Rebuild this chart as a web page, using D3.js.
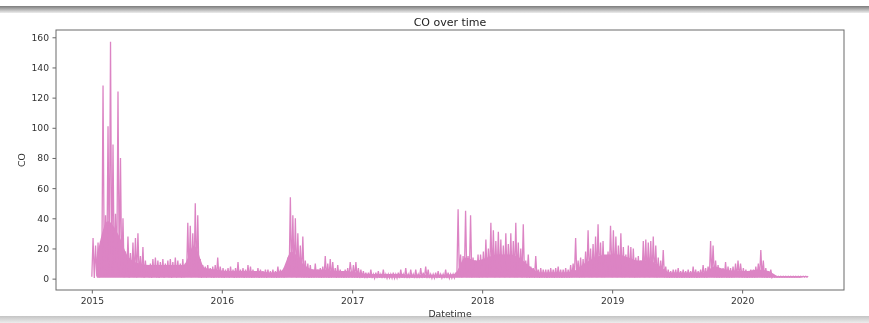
<!DOCTYPE html>
<html>
<head>
<meta charset="utf-8">
<script src="https://cdn.jsdelivr.net/npm/d3@7"></script>
<style>
body { margin: 0; background: #fff; }
svg { display: block; }
</style>
</head>
<body>
<script>
var years = [2015, 2016, 2017, 2018, 2019, 2020];
var yTicks = [0, 20, 40, 60, 80, 100, 120, 140, 160];

// weekly peak CO, week k of a year starts on Jan 1 + 7k days
var high2015 = [27,22,24,25,128,42,101,157,89,43,124,80,40,18,28,17,24,27,30,15,21,12,9,10,13,14,
    12,11,13,10,12,13,11,14,12,10,13,10,37,35,30,50,42,13,9,8,9,7,8,9,14,8];
var high2016 = [7,6,7,8,6,7,11,6,7,6,9,8,6,5,7,6,5,6,6,5,6,5,8,6,5,7,
    14,54,42,40,30,22,28,12,10,9,6,10,6,7,8,15,10,13,11,7,9,6,5,6,7,11];
var high2017 = [9,11,7,6,5,4,4,6,3,4,5,3,6,3,3,3,4,3,4,6,3,7,3,6,3,6,
    3,7,4,8,6,3,3,4,5,3,3,6,4,3,3,4,46,16,15,45,15,42,14,12,16,16];
var high2018 = [18,26,20,37,32,25,31,26,22,30,23,30,25,37,24,20,36,12,16,8,7,15,6,7,6,6,
    6,7,6,7,8,6,6,7,6,9,10,27,12,14,13,18,32,20,23,28,36,24,25,15,18,35];
var high2019 = [32,28,22,30,21,16,22,21,20,14,15,12,25,26,24,25,28,22,14,12,19,8,6,5,6,6,
    7,5,6,5,6,5,8,6,5,6,9,7,8,25,22,12,9,6,7,11,8,7,8,10,12,10];
var high2020 = [7,6,5,6,6,8,10,19,12,7,5,6,2,
    1.6,1.6,1.6,1.6,1.6,1.6,1.6,1.6,1.6,1.6,1.6,1.6,1.6,1.6];

// weekly low CO
var low2015 = [1.2,0.4,1.5,0.8,2.1,1.8,2.5,3.0,2.2,1.6,2.4,1.9,1.1,
    0.9,1.4,0.7,1.2,1.0,0.8,1.3,0.9,0.6,1.1,0.8,0.5,1.0,
    0.7,0.4,0.9,0.6,1.1,0.8,0.5,0.9,0.7,1.0,0.6,0.8,1.2,
    1.5,1.0,1.4,1.1,0.7,0.5,0.8,0.6,0.9,0.7,0.5,0.8,0.6];
var low2016 = [0.7,0.5,0.8,0.6,0.9,0.5,0.7,0.6,0.8,0.5,0.6,0.7,0.5,
    0.6,0.8,0.5,0.7,0.6,0.5,0.8,0.6,0.7,0.5,0.6,0.8,0.7,
    0.9,1.2,1.0,1.1,0.8,0.9,0.7,0.6,0.8,0.5,0.7,0.6,0.8,
    0.7,0.5,0.6,0.7,0.5,0.6,0.8,0.5,0.6,0.7,0.5,0.6,0.7];
var low2017 = [0.6,0.7,0.5,0.4,0.5,0.4,0.3,0.5,0.4,0.3,0.4,0.5,0.3,
    0.4,0.3,0.5,0.4,0.3,0.4,0.3,0.5,0.4,0.3,0.4,0.5,0.3,
    0.4,0.3,0.4,0.5,0.3,0.4,0.3,0.4,0.3,0.5,0.4,0.3,0.4,
    0.3,0.4,0.5,1.0,0.9,0.8,1.1,0.9,1.0,0.8,0.9,1.0,0.8];
var low2018 = [1.0,1.2,0.9,1.1,1.3,1.0,1.2,0.9,1.1,1.0,1.2,0.9,1.1,
    1.0,0.9,1.1,0.8,0.9,0.7,0.6,0.8,0.6,0.7,0.5,0.6,0.7,
    0.5,0.6,0.7,0.5,0.6,0.7,0.5,0.6,0.7,0.6,0.8,1.0,0.9,
    0.8,1.0,0.9,1.1,1.0,0.9,1.2,1.0,1.1,0.9,1.0,1.1,1.2];
var low2019 = [1.0,1.1,0.9,1.2,1.0,0.9,1.1,1.0,0.9,0.8,1.0,0.9,1.1,
    1.0,1.2,0.9,1.1,1.0,0.8,0.9,1.0,0.7,0.6,0.5,0.6,0.7,
    0.5,0.6,0.5,0.7,0.6,0.5,0.6,0.7,0.5,0.6,0.8,0.7,0.6,
    0.9,1.0,0.8,0.7,0.6,0.7,0.8,0.7,0.6,0.7,0.8,0.9,0.8];
var low2020 = [0.7,0.6,0.5,0.6,0.7,0.6,0.8,0.9,0.7,0.6,0.5,0.6,0.8,
    1.0,1.0,1.0,1.0,1.0,1.0,1.0,1.0,1.0,1.0,1.0,1.0,1.0,1.0];

// monthly level up to which the hourly trace is a solid band (mid-month)
var band2015 = [14,38,30,14,10,9,9,9,9,22,7,6];
var band2016 = [5,5,5,5,4,5,18,10,6,6,5,5];
var band2017 = [4,3,3,3,3,2.5,2.5,2.5,2.5,3,14,12];
var band2018 = [14,16,16,14,8,4,4,4,5,10,14,16];
var band2019 = [16,14,12,12,8,4,4,4,4,8,6,5];
var band2020 = [5,6,5,1.4,1.4,1.4];

var highs = [high2015, high2016, high2017, high2018, high2019, high2020];
var lows = [low2015, low2016, low2017, low2018, low2019, low2020];
var bands = [band2015, band2016, band2017, band2018, band2019, band2020];

var width = 869, height = 323;
var margin = {top: 30, right: 25, bottom: 33, left: 56};
var lineColor = "#dc84c4";
var bandFloor = 0.6;
var font = "DejaVu Sans, sans-serif";

document.addEventListener('DOMContentLoaded', init);

function init() {
    // each week: low at the start, peak half a week later
    let points = [];
    let bandPoints = [];
    years.forEach((yr, j) => {
        highs[j].forEach((h, k) => {
            let t0 = d3.timeDay.offset(new Date(yr, 0, 1), 7 * k);
            points.push({date: t0, value: lows[j][k]});
            points.push({date: d3.timeHour.offset(t0, 84), value: h});
        });
        bands[j].forEach((b, m) => {
            bandPoints.push({date: new Date(yr, m, 15), value: b});
        });
    });
    drawChart(points, bandPoints);
}

function padded(ext) {
    let p = (ext[1] - ext[0]) * 0.05;
    return [ext[0] - p, ext[1] + p];
}

function drawChart(points, bandPoints) {
    let svg = d3.select("body")
        .append("svg")
        .attr("width", width)
        .attr("height", height);

    let defs = svg.append("defs");
    defs.append("filter").attr("id", "soft")
        .append("feGaussianBlur").attr("stdDeviation", 0.35);
    let g1 = defs.append("linearGradient").attr("id", "topband")
        .attr("x1", 0).attr("y1", 0).attr("x2", 0).attr("y2", 1);
    g1.append("stop").attr("offset", "0%").attr("stop-color", "#7c7c7c");
    g1.append("stop").attr("offset", "100%").attr("stop-color", "#ededed");
    let g2 = defs.append("linearGradient").attr("id", "botband")
        .attr("x1", 0).attr("y1", 0).attr("x2", 0).attr("y2", 1);
    g2.append("stop").attr("offset", "0%").attr("stop-color", "#c4c4c4");
    g2.append("stop").attr("offset", "100%").attr("stop-color", "#ececec");

    // screenshot edges
    svg.append("rect").attr("x", 0).attr("y", 6).attr("width", width).attr("height", 7)
        .attr("fill", "url(#topband)");
    svg.append("rect").attr("x", 0).attr("y", 316).attr("width", width).attr("height", 7)
        .attr("fill", "url(#botband)");

    let chart = svg.append("g").attr("filter", "url(#soft)");

    let x = d3.scaleTime()
        .domain(padded(d3.extent(points, (d) => +d.date)).map((v) => new Date(v)))
        .range([margin.left, width - margin.right]);
    let y = d3.scaleLinear()
        .domain(padded(d3.extent(points, (d) => d.value)))
        .range([height - margin.bottom, margin.top]);

    // solid part of the dense trace
    let area = d3.area()
        .x((d) => x(d.date))
        .y0(y(bandFloor))
        .y1((d) => y(d.value))
        .curve(d3.curveMonotoneX);
    chart.append("path")
        .datum(bandPoints)
        .attr("d", area)
        .attr("fill", lineColor);

    // the series
    let line = d3.line()
        .x((d) => x(d.date))
        .y((d) => y(d.value));
    chart.append("path")
        .datum(points)
        .attr("d", line)
        .attr("fill", "none")
        .attr("stroke", lineColor)
        .attr("stroke-width", 1.3)
        .attr("stroke-linejoin", "miter");

    // axes
    let xAxis = d3.axisBottom(x)
        .tickValues(years.map((yr) => new Date(yr, 0, 1)))
        .tickFormat(d3.timeFormat("%Y"))
        .tickSize(3.5)
        .tickPadding(3.5);
    let yAxis = d3.axisLeft(y)
        .tickValues(yTicks)
        .tickSize(3.5)
        .tickPadding(3.5);

    let gx = chart.append("g")
        .attr("transform", "translate(0," + (height - margin.bottom) + ")")
        .call(xAxis);
    let gy = chart.append("g")
        .attr("transform", "translate(" + margin.left + ",0)")
        .call(yAxis);
    [gx, gy].forEach((ax) => {
        ax.select(".domain").remove();
        ax.selectAll("line").attr("stroke", "#666");
        ax.selectAll("text")
            .attr("fill", "#333")
            .attr("font-family", font)
            .attr("font-size", "9.2px");
    });

    // frame
    chart.append("rect")
        .attr("x", margin.left)
        .attr("y", margin.top)
        .attr("width", width - margin.left - margin.right)
        .attr("height", height - margin.top - margin.bottom)
        .attr("fill", "none")
        .attr("stroke", "#6a6a6a")
        .attr("stroke-width", 1);

    // labels
    chart.append("text")
        .text("CO over time")
        .attr("x", (margin.left + width - margin.right) / 2)
        .attr("y", 25.5)
        .attr("text-anchor", "middle")
        .attr("font-family", font)
        .attr("font-size", "11px")
        .attr("fill", "#222");
    chart.append("text")
        .text("Datetime")
        .attr("x", (margin.left + width - margin.right) / 2)
        .attr("y", 317)
        .attr("text-anchor", "middle")
        .attr("font-family", font)
        .attr("font-size", "9.3px")
        .attr("fill", "#333");
    chart.append("text")
        .text("CO")
        .attr("transform", "translate(25," + ((margin.top + height - margin.bottom) / 2) + ") rotate(-90)")
        .attr("text-anchor", "middle")
        .attr("font-family", font)
        .attr("font-size", "9.3px")
        .attr("fill", "#333");
}
</script>
</body>
</html>
